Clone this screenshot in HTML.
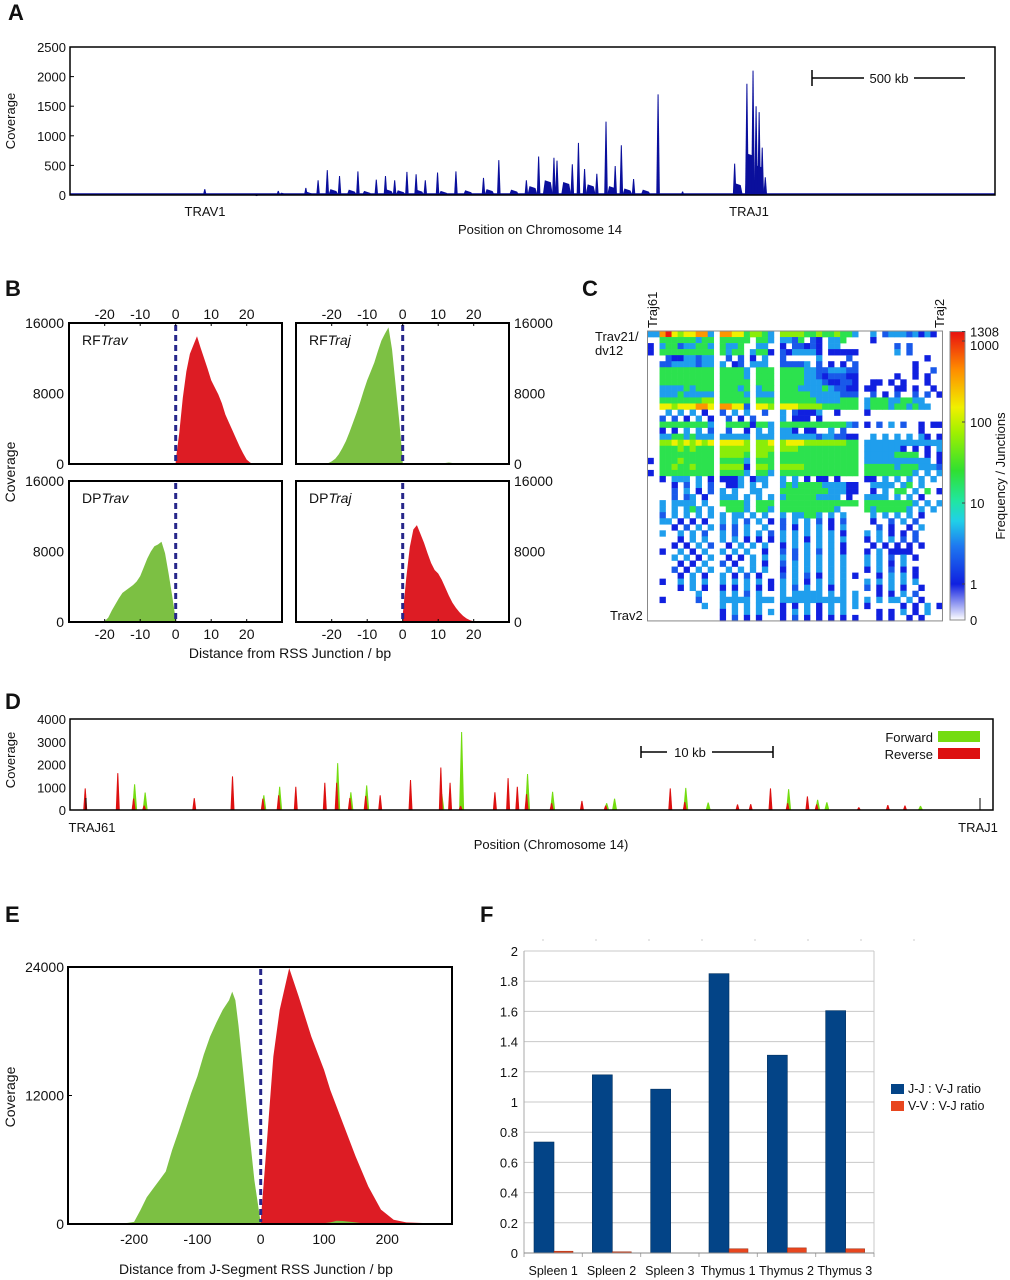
<!DOCTYPE html>
<html><head><meta charset="utf-8"><style>
html,body{margin:0;padding:0;background:#fff}
svg{display:block;font-family:"Liberation Sans",Arial,sans-serif}
text{fill:#111}
</style></head><body>
<svg id="fig" width="1010" height="1280" viewBox="0 0 1010 1280" xmlns="http://www.w3.org/2000/svg">
<g id="root"></g>
</svg>
<script>
// ---------- Panel A data ----------
const aPos=[0.44,0.68,0.77,0.81,0.84,0.88,0.94,1.00,1.03,1.06,1.10,1.13,1.16,1.20,1.26,1.35,1.40,1.49,1.53,1.58,1.59,1.64,1.66,1.68,1.72,1.75,1.78,1.80,1.84,1.92,2.00,2.17,2.21,2.23,2.24,2.25,2.26,2.27];
const aCov=[100,70,120,250,420,320,400,260,320,250,390,350,250,380,400,290,590,250,650,630,580,520,880,440,360,1240,490,840,270,1700,60,530,1880,2100,1500,1400,800,300];
const aBgPos=[0.60,0.70,0.78,0.86,0.92,0.97,1.04,1.08,1.14,1.22,1.30,1.37,1.45,1.51,1.56,1.62,1.70,1.77,1.82,1.88,2.18,2.22,2.25];
const aBgCov=[15,40,60,100,90,70,100,80,90,70,80,100,90,150,250,220,180,150,110,90,200,700,500];
const aTicks=[0,500,1000,1500,2000,2500];
// ---------- Panel B data ----------
const bX1=[0,1,2,3,4,5,6,7,8,9,10,11,12,13,14,15,16,17,18,19,20,21,22];
const bRFTrav=[400,3500,7500,10500,12500,13500,14500,13200,12000,10800,9500,8700,7900,6900,5600,4700,3800,2900,2000,1200,500,150,0];
const bX2=[-22,-21,-20,-19,-18,-17,-16,-15,-14,-13,-12,-11,-10,-9,-8,-7,-6,-5,-4,-3,-2,-1,0];
const bRFTraj=[0,100,300,600,1100,1800,2600,3600,4700,5800,7000,8300,9500,10500,11500,12800,14000,14800,15500,13000,9000,5000,500];
const bX3=[-21,-20,-19,-18,-17,-16,-15,-14,-13,-12,-11,-10,-9,-8,-7,-6,-5,-4,-3,-2,-1,0];
const bDPTrav=[0,100,500,1300,2000,2700,3300,3600,3900,4200,4600,5200,6200,7200,8000,8600,8800,9100,7800,5500,3000,300];
const bDPTraj=[800,5000,8500,10500,11000,10000,9000,7800,6700,5900,5500,4800,3900,3000,2200,1600,1100,700,400,200,80,0,0];
const bXTicks=[-20,-10,0,10,20];
const bYTicks=[0,8000,16000];
// ---------- Panel C data: rows as 4 column blocks (cols 0-10 | 12-20 | 22-34 | 36-48) ----------
// codes: . none, 1=1, 2=2, 3=4, 4=20, 5=60, 6=150, 7=400, 8=1200
const cCodeVals={'1':1,'2':2,'3':4,'4':20,'5':60,'6':150,'7':400,'8':1200};
const cBlockStarts=[0,12,22,36];
const cBlockWidths=[11,9,13,13];
const cRows=[
"33786566773|776645543|5555445445443|.3.233323131.",
"..444444344|44444.443|3324.21.334..|.1...........",
"1.344233443|4334..33.|1.22121.33...|.....2.2.....",
"1.444444444|4344.3441|2133331.11111|.....3.2.....",
"...21133233|.2.2.1.3.|2.....3....2.|..........1..",
"..223333233|3.12.333.|22223.2.1.1.2|........1....",
"..444444444|44443.444|4444332233322|........1..2.",
"..444444444|44443.444|4444332122211|.....1..1.1..",
"..444444444|44444.444|4444333211221|.11.1.1...1..",
"..333343444|44434.344|4443333432211|11...11.1..1.",
"..333433333|44443.333|4444433333222|.2.1.2..2.2.1",
"..444444455|44444.444|4444443333444|3444334433...",
"..665666776|77662.665|6665555444444|34443443433..",
"...3.3.3.1.|2.3.3..2.|3.21113..1...|1............",
"..2.2.1.3.1|.2.1.2...|3.111.1......|.............",
"..444444443|.44441443|4444444444432|1.2.3.2..1.11",
"..1.1.3.3.2|.2..1.3.3|331.11..3.2..|.........1...",
"..334434333|33333.333|3333332332211|.3.3.3.3.31.1",
"..556565656|66665.556|5666555555544|3333333333333",
"..444545444|55555.555|5554444444444|3333331.1.1.3",
"..444444444|55554.554|4444444444444|333334444.1.1",
"1.444544444|44443.444|4444444444444|33333333333.1",
"..445445444|55551.554|5555444444444|4444434443332",
"1.444444444|44443.443|4444444444444|444444443.3.3",
"..1.333.3.1|1113.133.|3.3.1.11.1...|11.3.3.3.3.3.",
"....1.2.3.2|.113.3.3.|3434444333311|.3333.34.3...",
"....2.3.1.2|3.3..33..|4444444433311|.1.3.44.3.4.1",
"....2.23.1.|333.3.3.3|3444443333.1.|3333.3.3.1...",
"..3.3333.3.|44443.444|4444444444444|444444443.3.3",
"..3.3.343.3|.4443.443|4444444443...|43444443.3.3.",
"..2.3.3.3.3|3.33.3.3.|3.33443.3.3..|.3.3.3.3.1...",
"..33.1.1.1.|3.3.2.3.1|2.3.3.2.1.2..|.1..2.3.2....",
"....1.2.3.3|2.2.3..3.|2.1.3.3.1.3..|..2.1..1.3...",
"..3..3.3.2.|3.2.3.3.2|3.3.3.3.3.1..|3.3.1.1.2....",
".....1.3.3.|3.3.1.1.1|3.3.1.3.3.3..|1.3.3.2.2....",
"....1.1.3.2|.1.3.3.3.|1.3.3.3.3.1..|.1.1.1.1.1...",
"..1..3.1.3.|3.3.3..1.|2.2.3.2.3.1..|1.3.1111.....",
"....3.3.1.3|.1.1.3.3.|3.2.3.3.3.3..|3.3.2.3.1....",
".....1.1.3.|2.1..3.1.|2.3.3.3.3.3..|3.3.1.3......",
"....2.1.3.3|.3.3.3.3.|1.3.3.3.3.3..|1.3.2.1.1....",
".....1.3.1.|3.1.2.1..|2.3.2.1.3.3.1|..1.3.3.1....",
"..1..3.3.3.|3.3.3.3.1|3.3.1.3.3.3..|3.3.3.3.3....",
".....1.3.1.|1.1.3.1.1|3.2.3.3.1.3..|2.1.3.1..1...",
"........3..|3.3.2.3..|3.33333.3.3.3|..1.1.3.2....",
"..1.....2..|33333.333|33333333333.3|3.3.33.3.1...",
".........3.|3.3.3.3..|1.1.3.1.3.3.3|1.....1.1.3.1",
"...........|1.3.3.3.3|1.3.3.1.3.3..|..1.1.3.1.3..",
"...........|1.2.1.1..|1.2.1.1.1.1.1|..1.1..1.1..."];
const cBarTicks=[1,10,100,1000,1308];
// ---------- Panel D data (position kb, coverage) ----------
const dFwdPos=[4.9,5.7,14.7,15.9,20.3,21.3,22.5,28.2,29.7,34.7,36.6,40.7,41.3,46.7,48.4,54.5,56.7,57.4,64.5];
const dFwdCov=[1130,770,650,1020,2060,780,1080,700,3430,1580,800,300,500,970,330,920,450,340,180];
const dRevPos=[1.23,3.7,4.9,5.7,9.5,12.4,14.7,15.9,17.2,19.4,20.3,21.3,22.5,23.6,25.9,28.2,28.9,29.7,32.3,33.3,34.0,34.7,36.6,38.9,40.7,45.6,46.7,50.7,51.7,53.2,54.5,56.0,56.7,59.9,62.1,63.4];
const dRevCov=[950,1620,500,200,520,1480,500,650,1020,1200,1200,530,620,650,1320,1870,1200,180,780,1400,1020,700,300,400,200,950,350,250,260,950,300,600,250,120,220,200];
const dTicks=[0,1000,2000,3000,4000];
// ---------- Panel E data ----------
const eGreenX=[-230,-210,-200,-190,-180,-170,-160,-150,-140,-130,-120,-110,-100,-90,-80,-70,-60,-50,-45,-40,-35,-30,-20,-10,0];
const eGreenY=[0,100,200,1300,2500,3300,4100,4900,6900,8600,10400,12200,13800,15800,17500,18800,20000,20900,21700,20900,18500,15600,9700,4100,100];
const eRedX=[0,5,10,20,30,45,60,80,100,110,130,150,170,190,210,230,250,280,290];
const eRedY=[300,4000,7850,15650,20000,23900,21250,17500,14400,12500,9400,6300,3500,1340,400,150,100,50,0];
const eBumpX=[90,110,120,130,150,170];
const eBumpY=[0,150,300,280,150,0];
const eYTicks=[0,12000,24000];
const eXTicks=[-200,-100,0,100,200];
// ---------- Panel F data ----------
const fCats=["Spleen 1","Spleen 2","Spleen 3","Thymus 1","Thymus 2","Thymus 3"];
const fJJ=[0.735,1.18,1.085,1.85,1.31,1.605];
const fVV=[0.012,0.008,0,0.028,0.034,0.028];
const fTicks=[0,0.2,0.4,0.6,0.8,1,1.2,1.4,1.6,1.8,2];
const fTickLabels=["0","0.2","0.4","0.6","0.8","1","1.2","1.4","1.6","1.8","2"];

const NS="http://www.w3.org/2000/svg";
const root=document.getElementById('root');
function el(tag,attrs,parent,txt){const e=document.createElementNS(NS,tag);for(const k in attrs)e.setAttribute(k,attrs[k]);if(txt!==undefined)e.textContent=txt;(parent||root).appendChild(e);return e;}
function txt(x,y,s,size,anchor,parent,extra){const a=Object.assign({x:x,y:y,'font-size':size,'text-anchor':anchor||'start'},extra||{});return el('text',a,parent,s);}
function lin(d0,d1,r0,r1){return v=>r0+(v-d0)/(d1-d0)*(r1-r0);}

[["A",8,20],["B",5,296],["C",582,296],["D",5,709],["E",5,922],["F",480,922]].forEach(p=>{
 const t=txt(p[1],p[2],p[0],22,'start',null,{'font-weight':'bold'});
 
 
});

// ===== Panel A =====
(function(){
 const g=el('g',{});  
 const X=lin(0,3.02,70,995), Y=lin(0,2500,195,47);
 aBgPos.forEach((p,i)=>{const x=X(p),y=Y(aBgCov[i]);const s=el('polygon',{points:`${x-5},195 ${x-3},${y} ${x+3},${y+2} ${x+5},195`,fill:'#0a0f9c'},g);
   });
 aPos.forEach((p,i)=>{const x=X(p),y=Y(aCov[i]);const s=el('polygon',{points:`${x-1.8},195 ${x-0.5},${y} ${x+0.5},${y} ${x+1.8},195`,fill:'#0a0f9c'},g);
   });
 el('line',{x1:70,x2:995,y1:194,y2:194,stroke:'#0a0f9c','stroke-width':1.5},g);
 el('rect',{x:70,y:47,width:925,height:148,fill:'none',stroke:'#000','stroke-width':1.5},g);
 aTicks.forEach(t=>{txt(66,Y(t)+5,String(t),13,'end',g);el('line',{x1:70,x2:74,y1:Y(t),y2:Y(t),stroke:'#000'},g);});
 const yl=txt(0,0,'Coverage',13,'middle',g,{transform:'translate(15,121) rotate(-90)'});
  
 txt(205,216,'TRAV1',13,'middle',g); txt(749,216,'TRAJ1',13,'middle',g);
 const xl=txt(540,234,'Position on Chromosome 14',13,'middle',g);  
 el('line',{x1:812,x2:864,y1:78,y2:78,stroke:'#000','stroke-width':1.5},g);
 el('line',{x1:914,x2:965,y1:78,y2:78,stroke:'#000','stroke-width':1.5},g);
 el('line',{x1:812,x2:812,y1:70,y2:86,stroke:'#000','stroke-width':1.5},g);
 txt(889,83,'500 kb',13,'middle',g);
})();

// ===== Panel B =====
(function(){
 const g=el('g',{});  
 const panels=[
  {x0:69,zero:175.7,top:323,bot:464,xs:bX1,ys:bRFTrav,col:'#dd1c24',label:'RF',it:'Trav',name:'rf-trav'},
  {x0:296,zero:402.7,top:323,bot:464,xs:bX2,ys:bRFTraj,col:'#7cc043',label:'RF',it:'Traj',name:'rf-traj'},
  {x0:69,zero:175.7,top:481,bot:622,xs:bX3,ys:bDPTrav,col:'#7cc043',label:'DP',it:'Trav',name:'dp-trav'},
  {x0:296,zero:402.7,top:481,bot:622,xs:bX1,ys:bDPTraj,col:'#dd1c24',label:'DP',it:'Traj',name:'dp-traj'}];
 panels.forEach((p,pi)=>{
  const X=v=>p.zero+v*3.55, Y=lin(0,16000,p.bot,p.top);
  let pts=`${X(p.xs[0])},${p.bot} `+p.xs.map((x,i)=>`${X(x)},${Y(p.ys[i])}`).join(' ')+` ${X(p.xs[p.xs.length-1])},${p.bot}`;
  const a=el('polygon',{points:pts,fill:p.col},g);  
  if(pi===1){el('polygon',{points:`${X(10)},${p.bot} ${X(13)},${p.bot-1.5} ${X(16)},${p.bot}`,fill:p.col},g);}
  el('line',{x1:p.zero,x2:p.zero,y1:p.top+2,y2:p.bot,stroke:'#26268a','stroke-width':3,'stroke-dasharray':'6,4'},g);
  el('rect',{x:p.x0,y:p.top,width:213,height:p.bot-p.top,fill:'none',stroke:'#000','stroke-width':2},g);
  const t=txt(p.x0+13,p.top+22,p.label,14,'start',g); el('tspan',{'font-style':'italic'},t,p.it);
   
  if(pi<2){bXTicks.forEach(v=>{txt(X(v),319,String(v),14,'middle',g);el('line',{x1:X(v),x2:X(v),y1:p.top,y2:p.top+3,stroke:'#000'},g);});}
  else{bXTicks.forEach(v=>{txt(X(v),639,String(v),14,'middle',g);el('line',{x1:X(v),x2:X(v),y1:p.bot,y2:p.bot-3,stroke:'#000'},g);});}
  bYTicks.forEach(v=>{ if(pi%2===0) txt(64,Y(v)+5,String(v),14,'end',g); else txt(514,Y(v)+5,String(v),14,'start',g);});
 });
 txt(0,0,'Coverage',14,'middle',g,{transform:'translate(15,472) rotate(-90)'});
 const xl=txt(290,658,'Distance from RSS Junction / bp',14,'middle',g);  
})();

// ===== Panel C heatmap =====
(function(){
 const g=el('g',{});  
 const x0=647.5,y0=331,cw=6.02,ch=6.04,ncol=49;
 const stops=[[0,[16,32,224]],[0.15,[30,120,240]],[0.25,[32,208,232]],[0.33,[32,230,160]],[0.45,[48,224,48]],[0.6,[160,240,0]],[0.7,[240,240,0]],[0.85,[255,140,0]],[1,[232,16,16]]];
 function col(v){const t=Math.max(0,Math.min(1,Math.log10(v)/Math.log10(1308)));for(let i=1;i<stops.length;i++){if(t<=stops[i][0]){const a=stops[i-1],b=stops[i],f=(t-a[0])/(b[0]-a[0]);const c=a[1].map((u,k)=>Math.round(u+(b[1][k]-u)*f));return `rgb(${c.join(',')})`;}}return 'rgb(232,16,16)';}
 cRows.forEach((r,ri)=>{const blocks=r.split('|');
  blocks.forEach((b,bi)=>{for(let k=0;k<cBlockWidths[bi]&&k<b.length;k++){const code=b[k];if(code==='.')continue;const v=cCodeVals[code];if(!v)continue;
   const ci=cBlockStarts[bi]+k;
   const c=el('rect',{x:x0+ci*cw,y:y0+ri*ch,width:cw+0.3,height:ch+0.3,fill:col(v)},g);
    }});});
 el('rect',{x:x0,y:y0,width:ncol*cw,height:48*ch,fill:'none',stroke:'#888','stroke-width':1},g);
 txt(0,0,'Traj61',13,'start',g,{transform:'translate(657,328) rotate(-90)'});
 txt(0,0,'Traj2',13,'start',g,{transform:'translate(944,328) rotate(-90)'});
 txt(595,341,'Trav21/',13,'start',g); txt(595,355,'dv12',13,'start',g); txt(610,620,'Trav2',13,'start',g);
 const cb=el('g',{},g);  
 const CY=v=>584-Math.log10(v)*81;
 const defs=el('defs',{},cb);const lg=el('linearGradient',{id:'cbg',x1:0,y1:1,x2:0,y2:0},defs);
 stops.forEach(s=>el('stop',{offset:s[0],'stop-color':`rgb(${s[1].join(',')})`},lg));
 const lg2=el('linearGradient',{id:'cbw',x1:0,y1:1,x2:0,y2:0},defs);
 el('stop',{offset:0,'stop-color':'#ffffff'},lg2);el('stop',{offset:1,'stop-color':'rgb(16,32,224)'},lg2);
 el('rect',{x:950,y:CY(1308),width:15,height:584-CY(1308),fill:'url(#cbg)'},cb);
 el('rect',{x:950,y:584,width:15,height:36,fill:'url(#cbw)'},cb);
 el('rect',{x:950,y:CY(1308),width:15,height:620-CY(1308),fill:'none',stroke:'#888'},cb);
 cBarTicks.forEach(v=>{const y=CY(v);el('line',{x1:962,x2:965,y1:y,y2:y,stroke:'#444'},cb);txt(970,v===1000?y+9:y+5,String(v),13,'start',cb);});
 txt(970,625,'0',13,'start',cb);
 txt(0,0,'Frequency / Junctions',13,'middle',cb,{transform:'translate(1005,476) rotate(-90)'});
})();

// ===== Panel D =====
(function(){
 const g=el('g',{});  
 const X=lin(0,70,70,993), Y=lin(0,4000,810,719);
 dFwdPos.forEach((p,i)=>{const x=X(p),y=Y(dFwdCov[i]);const s=el('polygon',{points:`${x-2.5},810 ${x-0.5},${y} ${x+0.5},${y} ${x+2.5},810`,fill:'#74dc10'},g);
   });
 dRevPos.forEach((p,i)=>{const x=X(p)-1,y=Y(dRevCov[i]);const s=el('polygon',{points:`${x-2},810 ${x-0.5},${y} ${x+0.5},${y} ${x+2},810`,fill:'#dd1010'},g);
   });
 el('rect',{x:70,y:719,width:923,height:91,fill:'none',stroke:'#000','stroke-width':1.5},g);
 el('line',{x1:86,x2:86,y1:798,y2:810,stroke:'#000'},g);el('line',{x1:980,x2:980,y1:798,y2:810,stroke:'#000'},g);
 dTicks.forEach(t=>{txt(66,Y(t)+5,String(t),13,'end',g);});
 txt(0,0,'Coverage',13,'middle',g,{transform:'translate(15,760) rotate(-90)'});
 txt(92,832,'TRAJ61',13,'middle',g); txt(978,832,'TRAJ1',13,'middle',g);
 const xl=txt(551,849,'Position (Chromosome 14)',13,'middle',g);  
 el('line',{x1:641,x2:667,y1:752,y2:752,stroke:'#000','stroke-width':1.5},g);
 el('line',{x1:712,x2:773,y1:752,y2:752,stroke:'#000','stroke-width':1.5},g);
 el('line',{x1:641,x2:641,y1:746,y2:758,stroke:'#000','stroke-width':1.5},g);
 el('line',{x1:773,x2:773,y1:746,y2:758,stroke:'#000','stroke-width':1.5},g);
 txt(690,757,'10 kb',13,'middle',g);
 const l1=el('g',{},g);  
 txt(933,742,'Forward',13,'end',l1); el('rect',{x:938,y:731,width:42,height:11,fill:'#74dc10'},l1);
 const l2=el('g',{},g);  
 txt(933,759,'Reverse',13,'end',l2); el('rect',{x:938,y:748,width:42,height:11,fill:'#dd1010'},l2);
})();

// ===== Panel E =====
(function(){
 const g=el('g',{});  
 const X=v=>260.7+v*0.633, Y=lin(0,24000,1224,967);
 function area(xs,ys,c,n){const pts=`${X(xs[0])},1224 `+xs.map((x,i)=>`${X(x)},${Y(ys[i])}`).join(' ')+` ${X(xs[xs.length-1])},1224`;const a=el('polygon',{points:pts,fill:c},g);}
 area(eGreenX,eGreenY,'#7cc043','green-area');
 area(eRedX,eRedY,'#dd1c24','red-area');
 area(eBumpX,eBumpY,'#7cc043','green-bump');
 el('line',{x1:X(0),x2:X(0),y1:969,y2:1222,stroke:'#26268a','stroke-width':3,'stroke-dasharray':'6,4'},g);
 el('rect',{x:68,y:967,width:384,height:257,fill:'none',stroke:'#000','stroke-width':2},g);
 eYTicks.forEach(t=>{txt(64,Y(t)+5,String(t),14,'end',g);el('line',{x1:68,x2:72,y1:Y(t),y2:Y(t),stroke:'#000'},g);});
 eXTicks.forEach(t=>{txt(X(t),1244,String(t),14,'middle',g);});
 txt(0,0,'Coverage',14,'middle',g,{transform:'translate(15,1097) rotate(-90)'});
 const xl=txt(256,1274,'Distance from J-Segment RSS Junction / bp',14,'middle',g);  
})();

// ===== Panel F =====
(function(){
 const g=el('g',{});  
 const x0=524,x1=874,Y=lin(0,2,1253,951),cw=(x1-x0)/fCats.length;
 fTicks.forEach((t,i)=>{el('line',{x1:x0,x2:x1,y1:Y(t),y2:Y(t),stroke:'#c8c8c8','stroke-width':1},g);
  txt(x0-6,Y(t)+5,fTickLabels[i],13,'end',g);});
 el('line',{x1:x1,x2:x1,y1:951,y2:1253,stroke:'#c8c8c8'},g);
 el('line',{x1:x0,x2:x0,y1:951,y2:1256,stroke:'#aaa'},g);
 for(let i=0;i<=fCats.length;i++){el('line',{x1:x0+i*cw,x2:x0+i*cw,y1:1253,y2:1257,stroke:'#aaa'},g);}
 for(let i=0;i<8;i++){el('line',{x1:543+i*53,x2:543+i*53,y1:939,y2:941,stroke:'#ccc'},g);}
 fCats.forEach((c,i)=>{const cx=x0+i*cw;
  const b=el('rect',{x:cx+10,y:Y(fJJ[i]),width:20,height:1253-Y(fJJ[i]),fill:'#034487',stroke:'#02305e','stroke-width':0.6},g);
   
  if(fVV[i]>0){const r=el('rect',{x:cx+30,y:Y(fVV[i]),width:19,height:1253-Y(fVV[i]),fill:'#e8461e',stroke:'#9a2a10','stroke-width':0.5},g);
    }
  txt(cx+cw/2,1275,c,12.5,'middle',g);});
 el('line',{x1:x0,x2:x1,y1:1253,y2:1253,stroke:'#888'},g);
 const l1=el('g',{},g);  
 el('rect',{x:891,y:1084,width:13,height:10,fill:'#034487'},l1); txt(908,1093,'J-J : V-J ratio',12.5,'start',l1);
 const l2=el('g',{},g);  
 el('rect',{x:891,y:1101,width:13,height:10,fill:'#e8461e'},l2); txt(908,1110,'V-V : V-J ratio',12.5,'start',l2);
})();
</script>
</body></html>
